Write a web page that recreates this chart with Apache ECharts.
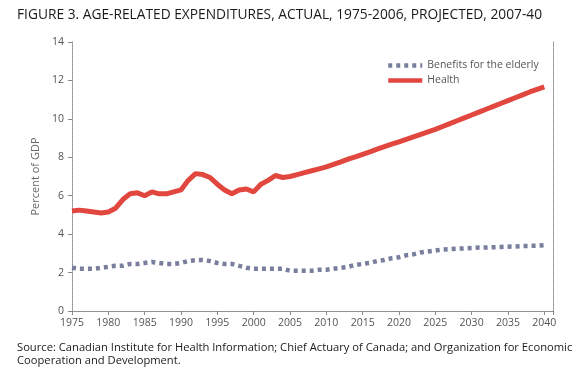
<!DOCTYPE html>
<html>
<head>
<meta charset="utf-8">
<script src="https://cdn.jsdelivr.net/npm/echarts@6/dist/echarts.min.js"></script>
<style>
html,body{margin:0;padding:0;background:#fff;}
#wrap{position:relative;width:584px;height:373px;}
#chart{position:absolute;left:0;top:0;width:584px;height:373px;}
</style>
</head>
<body>
<div id="wrap"><div id="chart"></div></div>
<script>
const titleText = 'FIGURE 3. AGE-RELATED EXPENDITURES, ACTUAL, 1975-2006, PROJECTED, 2007-40';
const sourceLines = ['Source: Canadian Institute for Health Information; Chief Actuary of Canada; and Organization for Economic', 'Cooperation and Development.'];
const yAxisName = 'Percent of GDP';
const seriesNames = ['Benefits for the elderly', 'Health'];
const years = [];
for (let y = 1975; y <= 2040; y++) years.push(y);
const benefits = [2.25,2.2,2.2,2.2,2.25,2.3,2.35,2.35,2.45,2.45,
  2.5,2.55,2.5,2.45,2.45,2.5,2.6,2.65,2.65,2.6,
  2.5,2.45,2.45,2.35,2.25,2.2,2.2,2.2,2.2,2.2,
  2.1,2.1,2.1,2.1,2.15,2.15,2.2,2.25,2.3,2.4,
  2.45,2.5,2.6,2.65,2.75,2.8,2.9,2.95,3.05,3.1,
  3.15,3.2,3.22,3.24,3.26,3.28,3.3,3.3,3.32,3.33,
  3.35,3.36,3.38,3.39,3.4,3.43];
const health = [5.2,5.25,5.2,5.15,5.1,5.15,5.35,5.8,6.1,6.15,
  6.0,6.2,6.1,6.1,6.2,6.3,6.8,7.15,7.1,6.95,
  6.6,6.3,6.1,6.3,6.35,6.2,6.6,6.8,7.05,6.95,
  7.0,7.1,7.2,7.3,7.4,7.5,7.63,7.76,7.9,8.02,
  8.15,8.28,8.42,8.55,8.68,8.8,8.93,9.06,9.19,9.32,
  9.45,9.6,9.75,9.9,10.05,10.2,10.35,10.5,10.65,10.8,
  10.95,11.1,11.25,11.4,11.53,11.66];

const benefitsColor = '#7a7e9e';
const healthColor = '#e2473f';
const chart = echarts.init(document.getElementById('chart'), null, {renderer: 'canvas'});
const axisGray = '#8a8a8a';
const labelFont = '"Open Sans", "DejaVu Sans", sans-serif';
chart.setOption({
  animation: false,
  backgroundColor: '#fff',
  title: [{
    text: titleText, left: 12, top: 3,
    textStyle: {fontFamily: labelFont, fontSize: 13.75, fontWeight: 'normal', color: '#1a1a1a'}
  }, {
    text: sourceLines.join('\n'), left: 12, top: 336,
    textStyle: {fontFamily: labelFont, fontSize: 11.2, fontWeight: 'normal', color: '#1a1a1a', lineHeight: 13}
  }],
  legend: {
    orient: 'vertical', left: 381, top: 55,
    itemWidth: 34, itemHeight: 8, itemGap: 4,
    itemStyle: {opacity: 0},
    textStyle: {fontFamily: labelFont, fontSize: 10.5, color: '#555'},
    data: [
      {name: seriesNames[0], lineStyle: {width: 4.5, color: benefitsColor, type: [4, 4]}},
      {name: seriesNames[1], lineStyle: {width: 4.5, color: healthColor}}
    ]
  },
  grid: {left: 72, right: 31, top: 42, bottom: 62},
  xAxis: [{
    type: 'value', min: 1975, max: 2041.2, interval: 5,
    axisLine: {lineStyle: {color: axisGray, type: 'dotted', width: 1}},
    axisTick: {show: true, length: 4, lineStyle: {color: axisGray}},
    splitLine: {show: false},
    axisLabel: {
      fontFamily: labelFont, fontSize: 10.5, color: '#555', margin: 7,
      formatter: v => (v % 5 === 0 ? String(v) : '')
    }
  }, {
    type: 'value', position: 'top', min: 1975, max: 2041.2,
    axisLine: {show: true, lineStyle: {color: axisGray, type: 'dotted', width: 1}},
    axisTick: {show: false}, axisLabel: {show: false}, splitLine: {show: false}
  }],
  yAxis: [{
    type: 'value', min: 0, max: 14, interval: 2,
    name: yAxisName, nameLocation: 'middle', nameGap: 28,
    nameTextStyle: {fontFamily: labelFont, fontSize: 11, color: '#666'},
    axisLine: {show: true, lineStyle: {color: axisGray, type: 'dotted', width: 1}},
    axisTick: {show: true, length: 4, lineStyle: {color: axisGray}},
    splitLine: {show: false},
    axisLabel: {fontFamily: labelFont, fontSize: 10.5, color: '#555', margin: 8}
  }, {
    type: 'value', position: 'right', min: 0, max: 14,
    axisLine: {show: true, lineStyle: {color: axisGray, type: 'dotted', width: 1}},
    axisTick: {show: false}, axisLabel: {show: false}, splitLine: {show: false}
  }],
  series: [{
    name: seriesNames[0], type: 'line', showSymbol: false, symbol: 'none',
    data: years.map((y, i) => [y, benefits[i]]),
    lineStyle: {color: benefitsColor, width: 4.5, type: [4, 4]},
    itemStyle: {color: benefitsColor}
  }, {
    name: seriesNames[1], type: 'line', showSymbol: false, symbol: 'none',
    data: years.map((y, i) => [y, health[i]]),
    lineStyle: {color: healthColor, width: 5},
    itemStyle: {color: healthColor}
  }]
});
</script>
</body>
</html>
